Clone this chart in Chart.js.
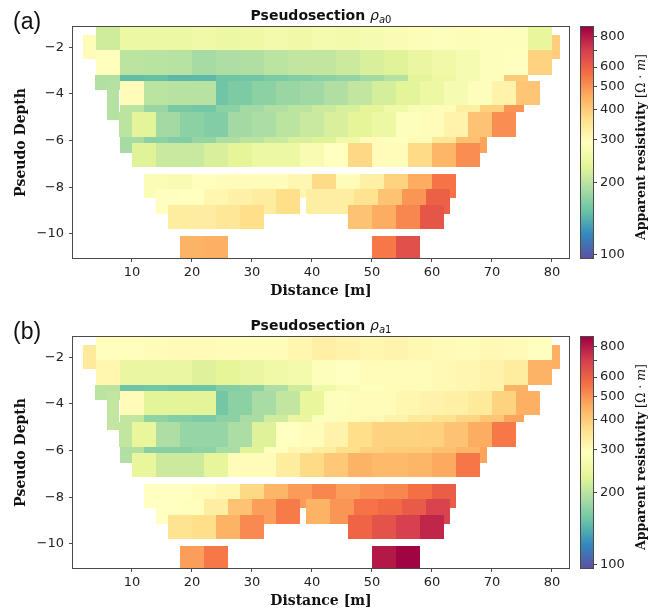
<!DOCTYPE html>
<html>
<head>
<meta charset="utf-8">
<script src="https://cdn.jsdelivr.net/npm/chart.js@4.4.0/dist/chart.umd.min.js"></script>
<style>
  html, body { margin: 0; padding: 0; background: #fff; overflow: hidden; }
  #wrap { position: relative; width: 660px; height: 614px; overflow: hidden; }
  .panel { position: absolute; left: 0; width: 660px; height: 310px; }
</style>
</head>
<body>
<div id="wrap">
  <div class="panel" style="top:0px"><canvas id="chartA" width="660" height="310"></canvas></div>
  <div class="panel" style="top:310px"><canvas id="chartB" width="660" height="310"></canvas></div>
</div>
<script>
// ---------------- data ----------------
const xTicks = [10, 20, 30, 40, 50, 60, 70, 80];
const yTicks = [-2, -4, -6, -8, -10];
const cbTicks = [100, 200, 300, 400, 500, 600, 700, 800];
const cbLabeledTicks = [100, 200, 300, 400, 500, 600, 800];
const cbMin = 97, cbMax = 880;

// pseudosection rows (distance in m, pseudo depth), drawn top to bottom
const rowTop       = [-1.47, -1.47, -1.05, -2.11, -3.19, -3.19, -3.44, -3.44, -3.44, -4.49, -4.77, -5.84, -6.10, -6.10, -7.43, -8.07, -8.07, -8.76, -8.76, -10.09, -10.09];
const rowBottom    = [-2.51, -2.51, -2.11, -3.19, -3.83, -3.44, -5.11, -4.49, -4.49, -4.77, -5.84, -6.53, -7.13, -7.13, -8.46, -9.14, -9.14, -9.79, -9.79, -11.20, -11.20];
const rowStart     = [1.8, 80, 4, 4, 3.9, 8, 5.8, 8, 26, 8, 6, 8, 10, 56, 12, 14, 39, 16, 46, 18, 50];
const rowCellWidth = [2.2, 1.3, 4, 4, 4.1, 4, 2.1, 4, 4, 4, 4, 4, 4, 4, 4, 4, 4, 4, 4, 4, 4];
const rowClipLeft  = [null, null, null, null, null, null, null, null, null, null, 7.9, null, null, null, null, null, null, null, null, null, null];
const rowClipRight = [null, null, null, null, null, null, null, null, null, 75.3, null, 69.2, null, 68.3, null, null, 63.2, null, null, null, null];

// apparent resistivity (Ohm m), panel (a) rho_a0
const rhoA0 = [
  [298],
  [395],
  [215, 250, 250, 248, 255, 250, 252, 262, 258, 265, 262, 268, 275, 282, 285, 282, 288, 285, 240],
  [295, 200, 198, 196, 185, 190, 192, 200, 205, 205, 212, 222, 230, 245, 258, 268, 285, 290, 385],
  [193],
  [148, 150, 145, 146, 155, 156, 162, 166, 170, 174, 183, 195, 232, 250, 268, 288, 400],
  [195],
  [298, 200, 197, 197, 155],
  [162, 170, 178, 182, 192, 205, 220, 232, 250, 268, 288, 320, 410],
  [200, 178, 160, 158, 170, 183, 192, 200, 212, 222, 235, 255, 275, 298, 330, 390, 495],
  [200, 232, 183, 170, 165, 183, 188, 200, 210, 222, 235, 250, 285, 298, 320, 415, 507],
  [185, 170, 165, 175, 190, 200, 210, 222, 230, 255, 300, 290, 298, 345, 420, 470],
  [230, 210, 210, 222, 235, 250, 250, 272, 292, 378, 298, 298],
  [372, 440, 507],
  [278, 272, 295, 298, 300, 298, 310, 372, 298, 325, 385, 455, 555],
  [290, 293, 312, 322, 335, 365],
  [330, 330, 355, 415, 495, 600],
  [335, 332, 345, 365],
  [415, 455, 520, 630],
  [445, 450],
  [545, 650]
];

// panel (b) rho_a1
const rhoA1 = [
  [340],
  [450],
  [295, 295, 300, 302, 302, 300, 300, 298, 312, 325, 318, 312, 315, 308, 302, 300, 305, 302, 290],
  [312, 245, 245, 245, 228, 236, 245, 255, 262, 285, 292, 298, 298, 300, 305, 310, 320, 335, 445],
  [200],
  [154, 156, 153, 154, 166, 170, 190, 215, 255, 275, 290, 300, 300, 305, 310, 320, 445],
  [205],
  [300, 232, 232, 232, 157],
  [170, 186, 205, 240, 285, 298, 300, 312, 318, 325, 340, 385, 450],
  [205, 172, 166, 162, 170, 186, 215, 245, 285, 298, 305, 320, 340, 360, 380, 410, 470],
  [205, 240, 190, 176, 176, 188, 228, 292, 300, 320, 365, 385, 385, 390, 415, 455, 545],
  [193, 168, 168, 172, 186, 230, 295, 310, 335, 365, 390, 400, 400, 420, 440, 470],
  [240, 212, 212, 238, 298, 300, 335, 372, 405, 445, 430, 430],
  [440, 460, 550],
  [292, 292, 300, 312, 375, 440, 485, 520, 480, 505, 520, 560, 610],
  [292, 295, 330, 415, 480, 540],
  [445, 495, 555, 575, 615, 690],
  [355, 365, 445, 515],
  [590, 640, 700, 770],
  [480, 545],
  [810, 870]
];

// ---------------- colormap (Spectral_r) ----------------
const SPECTRAL_R = ['#5e4fa2','#3288bd','#66c2a5','#abdda4','#e6f598','#ffffbf','#fee08b','#fdae61','#f46d43','#d53e4f','#9e0142'];
const STOPS = SPECTRAL_R.map(h => [parseInt(h.slice(1,3),16), parseInt(h.slice(3,5),16), parseInt(h.slice(5,7),16)]);
function cmap(t) {
  t = Math.max(0, Math.min(1, t));
  const f = t * (STOPS.length - 1);
  const i = Math.min(STOPS.length - 2, Math.floor(f));
  const u = f - i, a = STOPS[i], b = STOPS[i + 1];
  return 'rgb(' + Math.round(a[0] + (b[0]-a[0])*u) + ',' + Math.round(a[1] + (b[1]-a[1])*u) + ',' + Math.round(a[2] + (b[2]-a[2])*u) + ')';
}
function colorFor(cb, v) {
  const t = (cb.bottom - cb.getPixelForValue(v)) / (cb.bottom - cb.top);
  return cmap(t);
}

// ---------------- drawing helpers ----------------
function drawTitle(ctx, cx, baseline, sub) {
  const parts = [
    { t: 'Pseudosection ', f: 'bold 14px "DejaVu Sans"', dy: 0 },
    { t: '\u03C1', f: 'italic 14px "DejaVu Sans"', dy: 0 },
    { t: sub[0], f: 'italic 10px "DejaVu Sans"', dy: 3 },
    { t: sub[1], f: '10px "DejaVu Sans"', dy: 3 }
  ];
  let w = 0;
  parts.forEach(p => { ctx.font = p.f; p.w = ctx.measureText(p.t).width; w += p.w; });
  let x = cx - w / 2;
  ctx.fillStyle = '#111'; ctx.textAlign = 'left'; ctx.textBaseline = 'alphabetic';
  parts.forEach(p => { ctx.font = p.f; ctx.fillText(p.t, x, baseline + p.dy); x += p.w; });
}
function drawCbLabel(ctx, bx, cy) {
  const parts = [
    { t: 'Apparent resistivity', f: 'bold 12.5px "DejaVu Serif"' },
    { t: ' [\u03A9 \u00B7 ', f: '12.5px "DejaVu Serif"' },
    { t: 'm', f: 'italic 12.5px "DejaVu Serif"' },
    { t: ']', f: '12.5px "DejaVu Serif"' }
  ];
  let w = 0;
  parts.forEach(p => { ctx.font = p.f; p.w = ctx.measureText(p.t).width; w += p.w; });
  ctx.save();
  ctx.translate(bx, cy);
  ctx.rotate(-Math.PI / 2);
  ctx.fillStyle = '#111'; ctx.textAlign = 'left'; ctx.textBaseline = 'alphabetic';
  let x = -w / 2;
  parts.forEach(p => { ctx.font = p.f; ctx.fillText(p.t, x, 0); x += p.w; });
  ctx.restore();
}

function makePanelPlugin(values, letter, sub) {
  return {
    id: 'pseudosection_' + letter,
    beforeDatasetsDraw(chart) {
      const { ctx, chartArea: ca } = chart;
      const xs = chart.scales.x, ys = chart.scales.y, cb = chart.scales.cb;
      ctx.save();
      ctx.beginPath();
      ctx.rect(ca.left, ca.top, ca.right - ca.left, ca.bottom - ca.top);
      ctx.clip();
      for (let r = 0; r < values.length; r++) {
        const row = values[r];
        for (let i = 0; i < row.length; i++) {
          let x0 = rowStart[r] + i * rowCellWidth[r];
          let x1 = x0 + rowCellWidth[r];
          if (rowClipLeft[r] !== null) x0 = Math.max(x0, rowClipLeft[r]);
          if (rowClipRight[r] !== null) x1 = Math.min(x1, rowClipRight[r]);
          const px0 = Math.round(xs.getPixelForValue(x0));
          const px1 = Math.round(xs.getPixelForValue(x1));
          const py0 = Math.round(ys.getPixelForValue(rowTop[r]));
          const py1 = Math.round(ys.getPixelForValue(rowBottom[r]));
          ctx.fillStyle = colorFor(cb, row[i]);
          ctx.fillRect(px0, py0, px1 - px0, py1 - py0);
        }
      }
      ctx.restore();
    },
    afterDraw(chart) {
      const { ctx, chartArea: ca } = chart;
      const cb = chart.scales.cb, sp = chart.scales.spacer;
      // axes frame
      ctx.save();
      ctx.strokeStyle = '#4a4a4a';
      ctx.lineWidth = 1;
      ctx.strokeRect(Math.round(ca.left) - 0.5, Math.round(ca.top) - 0.5,
                     Math.round(ca.right - ca.left) + 1, Math.round(ca.bottom - ca.top) + 1);
      // colorbar
      const cbL = Math.round(sp.left + 12), cbR = Math.round(cb.left);
      for (let py = Math.round(cb.top); py < Math.round(cb.bottom); py++) {
        const v = cb.getValueForPixel(py + 0.5);
        ctx.fillStyle = colorFor(cb, v);
        ctx.fillRect(cbL, py, cbR - cbL, 1);
      }
      ctx.strokeStyle = '#4a4a4a';
      ctx.strokeRect(cbL - 0.5, Math.round(cb.top) - 0.5, cbR - cbL + 1, Math.round(cb.bottom - cb.top) + 1);
      // panel letter
      ctx.fillStyle = '#111';
      ctx.font = '23px "Liberation Sans"';
      ctx.textAlign = 'left'; ctx.textBaseline = 'alphabetic';
      ctx.fillText(letter, 13, 28.5);
      // title
      drawTitle(ctx, (ca.left + ca.right) / 2, 20, sub);
      // colorbar label
      drawCbLabel(ctx, 645, 147);
      ctx.restore();
    }
  };
}

function makeChart(canvasId, values, letter, sub) {
  const tickFont = { family: 'DejaVu Sans', size: 13 };
  const titleFont = { family: 'DejaVu Serif', size: 14, weight: 'bold' };
  return new Chart(document.getElementById(canvasId), {
    type: 'scatter',
    data: { datasets: [{ data: [], xAxisID: 'x', yAxisID: 'y', showLine: false }] },
    options: {
      responsive: false,
      animation: false,
      devicePixelRatio: 1,
      layout: { padding: { left: 0, right: 0, top: 27, bottom: 0 } },
      plugins: { legend: { display: false }, tooltip: { enabled: false }, title: { display: false } },
      scales: {
        x: {
          type: 'linear', position: 'bottom', min: 0.18, max: 82.85,
          afterBuildTicks: s => { s.ticks = xTicks.map(v => ({ value: v })); },
          afterFit: s => { s.height = 52; },
          ticks: { font: tickFont, color: '#222', padding: 3, maxRotation: 0, autoSkip: false, callback: v => String(v) },
          grid: { drawOnChartArea: false, drawTicks: true, tickLength: 4, tickColor: '#4a4a4a', color: '#4a4a4a' },
          border: { display: false },
          title: { display: true, text: 'Distance [m]', font: titleFont, color: '#111', padding: { top: 0, bottom: 10.5 } }
        },
        y: {
          type: 'linear', position: 'left', min: -11.03, max: -1.13,
          afterBuildTicks: s => { s.ticks = yTicks.map(v => ({ value: v })); },
          afterFit: s => { s.width = 73; },
          ticks: { font: tickFont, color: '#222', padding: 5, autoSkip: false, callback: v => (v < 0 ? '\u2212' : '') + Math.abs(v) },
          grid: { drawOnChartArea: false, drawTicks: true, tickLength: 4, tickColor: '#4a4a4a', color: '#4a4a4a' },
          border: { display: false },
          title: { display: true, text: 'Pseudo Depth', font: { family: 'DejaVu Serif', size: 14, weight: 'bold' }, color: '#111', padding: { top: 12.5, bottom: 0 } }
        },
        spacer: {
          type: 'linear', position: 'right', weight: 0, min: 0, max: 1,
          afterFit: s => { s.width = 24; },
          ticks: { display: false },
          grid: { display: false },
          border: { display: false }
        },
        cb: {
          type: 'logarithmic', position: 'right', weight: 1, min: cbMin, max: cbMax,
          afterBuildTicks: s => { s.ticks = cbTicks.map(v => ({ value: v })); },
          afterFit: s => { s.width = 67; },
          ticks: { font: tickFont, color: '#222', padding: 3, autoSkip: false,
                   callback: v => (cbLabeledTicks.indexOf(v) >= 0 ? String(v) : '') },
          grid: { drawOnChartArea: false, drawTicks: true, tickLength: 4, tickColor: '#4a4a4a', color: '#4a4a4a' },
          border: { display: false }
        }
      }
    },
    plugins: [makePanelPlugin(values, letter, sub)]
  });
}

makeChart('chartA', rhoA0, '(a)', 'a0');
makeChart('chartB', rhoA1, '(b)', 'a1');
</script>
</body>
</html>
